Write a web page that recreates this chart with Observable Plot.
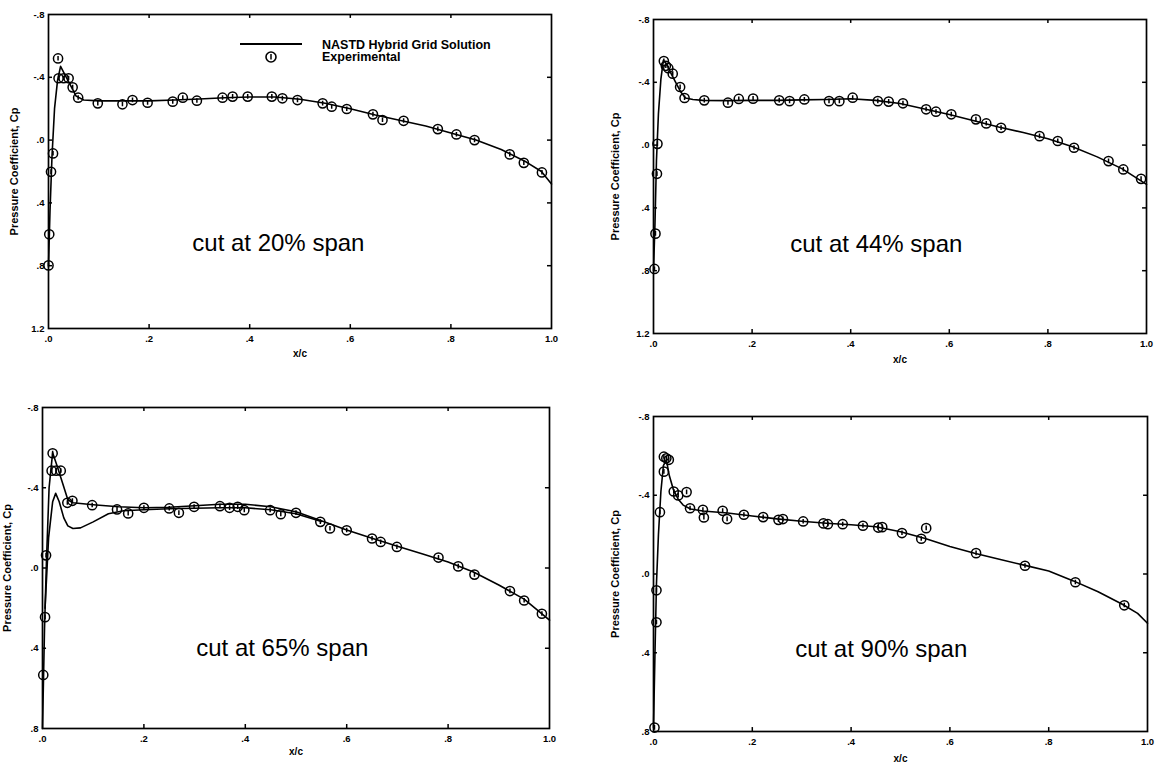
<!DOCTYPE html>
<html><head><meta charset="utf-8">
<script src="https://cdn.jsdelivr.net/npm/d3@7"></script>
<script src="https://cdn.jsdelivr.net/npm/@observablehq/plot@0.6"></script>
<style>
body{margin:0;background:#fff;}
#wrap{position:relative;width:1157px;height:766px;overflow:hidden;background:#fff;font-family:"Liberation Sans",Arial,sans-serif;}
#wrap svg{position:absolute;}
</style></head><body><div id="wrap"></div>
<script>
// ---- tick values ----
const xTicks = [0, 0.2, 0.4, 0.6, 0.8, 1.0];
const yTicksTop = [-0.8, -0.4, 0, 0.4, 0.8, 1.2];
const yTicksBottom = [-0.8, -0.4, 0, 0.4, 0.8];
const panelTitles = ["cut at 20% span", "cut at 44% span", "cut at 65% span", "cut at 90% span"];
const legendLabels = ["NASTD Hybrid Grid Solution", "Experimental"];

// ---- 20% span ----
const exp20X  = [0.0, 0.0015, 0.005, 0.009, 0.019, 0.02, 0.03, 0.04, 0.048, 0.059, 0.098, 0.147, 0.167, 0.197, 0.247, 0.267, 0.295, 0.346, 0.366, 0.396, 0.444, 0.465, 0.495, 0.545, 0.563, 0.593, 0.645, 0.664, 0.706, 0.774, 0.811, 0.847, 0.917, 0.945, 0.981];
const exp20Cp = [0.798, 0.6, 0.202, 0.085, -0.52, -0.394, -0.394, -0.394, -0.336, -0.27, -0.234, -0.228, -0.255, -0.238, -0.245, -0.27, -0.251, -0.27, -0.277, -0.277, -0.277, -0.266, -0.255, -0.234, -0.213, -0.198, -0.164, -0.128, -0.123, -0.07, -0.036, 0.0, 0.091, 0.145, 0.206];
const sol20X  = [0, 0.003, 0.007, 0.012, 0.018, 0.024, 0.032, 0.042, 0.055, 0.07, 0.1, 0.15, 0.2, 0.25, 0.3, 0.35, 0.4, 0.45, 0.5, 0.55, 0.6, 0.65, 0.7, 0.75, 0.8, 0.85, 0.9, 0.95, 0.98, 1.0];
const sol20Cp = [0.8, 0.45, 0.1, -0.2, -0.38, -0.47, -0.42, -0.36, -0.28, -0.255, -0.25, -0.25, -0.25, -0.255, -0.262, -0.27, -0.275, -0.275, -0.26, -0.235, -0.2, -0.16, -0.125, -0.09, -0.045, 0.0, 0.06, 0.14, 0.2, 0.28];

// ---- 44% span ----
const exp44X  = [0.002, 0.004, 0.007, 0.008, 0.021, 0.025, 0.03, 0.039, 0.054, 0.063, 0.103, 0.151, 0.173, 0.202, 0.255, 0.276, 0.306, 0.356, 0.377, 0.404, 0.455, 0.477, 0.506, 0.553, 0.573, 0.604, 0.654, 0.675, 0.705, 0.783, 0.82, 0.853, 0.923, 0.953, 0.989];
const exp44Cp = [0.789, 0.564, 0.183, -0.008, -0.535, -0.505, -0.49, -0.455, -0.37, -0.3, -0.285, -0.27, -0.294, -0.296, -0.285, -0.28, -0.291, -0.28, -0.28, -0.302, -0.28, -0.277, -0.266, -0.228, -0.213, -0.196, -0.164, -0.138, -0.11, -0.057, -0.026, 0.017, 0.102, 0.155, 0.215];
const sol44X  = [0, 0.003, 0.006, 0.01, 0.015, 0.02, 0.026, 0.035, 0.045, 0.055, 0.065, 0.08, 0.1, 0.15, 0.2, 0.25, 0.3, 0.35, 0.4, 0.45, 0.5, 0.55, 0.6, 0.65, 0.7, 0.75, 0.8, 0.85, 0.9, 0.95, 1.0];
const sol44Cp = [0.8, 0.5, 0.1, -0.2, -0.42, -0.54, -0.52, -0.46, -0.4, -0.34, -0.3, -0.29, -0.285, -0.283, -0.285, -0.285, -0.288, -0.29, -0.295, -0.285, -0.265, -0.23, -0.195, -0.155, -0.115, -0.08, -0.04, 0.01, 0.075, 0.15, 0.25];

// ---- 65% span ----
const exp65X  = [0.0015, 0.005, 0.007, 0.02, 0.018, 0.027, 0.036, 0.049, 0.059, 0.098, 0.147, 0.169, 0.2, 0.25, 0.269, 0.299, 0.35, 0.369, 0.385, 0.398, 0.449, 0.47, 0.5, 0.548, 0.567, 0.6, 0.65, 0.667, 0.699, 0.781, 0.82, 0.852, 0.922, 0.95, 0.985];
const exp65Cp = [0.533, 0.245, -0.063, -0.572, -0.485, -0.485, -0.485, -0.325, -0.335, -0.313, -0.292, -0.272, -0.3, -0.297, -0.275, -0.305, -0.308, -0.3, -0.305, -0.288, -0.288, -0.268, -0.275, -0.23, -0.197, -0.188, -0.147, -0.13, -0.105, -0.052, -0.008, 0.033, 0.115, 0.162, 0.228];
const solA65X  = [0, 0.004, 0.008, 0.013, 0.02, 0.03, 0.04, 0.05, 0.06, 0.1, 0.15, 0.2, 0.25, 0.3, 0.35, 0.4, 0.45, 0.5, 0.55, 0.6, 0.65, 0.7, 0.75, 0.8, 0.85, 0.9, 0.95, 1.0];
const solA65Cp = [0.8, 0.3, -0.05, -0.4, -0.575, -0.5, -0.42, -0.34, -0.325, -0.315, -0.305, -0.3, -0.303, -0.31, -0.318, -0.318, -0.305, -0.28, -0.235, -0.19, -0.148, -0.108, -0.07, -0.03, 0.02, 0.085, 0.155, 0.26];
const solB65X  = [0.005, 0.012, 0.02, 0.026, 0.033, 0.042, 0.05, 0.06, 0.075, 0.1, 0.13, 0.16, 0.2, 0.25, 0.3, 0.35, 0.4, 0.45, 0.5, 0.55];
const solB65Cp = [0.2, -0.15, -0.33, -0.372, -0.33, -0.25, -0.21, -0.197, -0.2, -0.23, -0.27, -0.285, -0.29, -0.295, -0.298, -0.3, -0.3, -0.29, -0.27, -0.232];

// ---- 90% span ----
const exp90X  = [0.002, 0.006, 0.006, 0.013, 0.021, 0.021, 0.026, 0.031, 0.041, 0.05, 0.067, 0.074, 0.1, 0.102, 0.14, 0.149, 0.183, 0.222, 0.253, 0.262, 0.303, 0.344, 0.353, 0.383, 0.424, 0.455, 0.463, 0.503, 0.542, 0.552, 0.653, 0.752, 0.854, 0.953];
const exp90Cp = [0.78, 0.245, 0.083, -0.314, -0.52, -0.596, -0.588, -0.58, -0.419, -0.399, -0.416, -0.334, -0.326, -0.287, -0.321, -0.279, -0.301, -0.289, -0.275, -0.279, -0.267, -0.257, -0.253, -0.253, -0.245, -0.236, -0.238, -0.208, -0.179, -0.233, -0.106, -0.042, 0.042, 0.159];
const sol90X  = [0.0, 0.003, 0.006, 0.01, 0.015, 0.02, 0.026, 0.032, 0.04, 0.05, 0.06, 0.075, 0.1, 0.15, 0.2, 0.25, 0.3, 0.35, 0.4, 0.45, 0.5, 0.55, 0.6, 0.65, 0.7, 0.75, 0.8, 0.85, 0.9, 0.95, 0.98, 1.0];
const sol90Cp = [0.78, 0.4, 0.05, -0.2, -0.42, -0.55, -0.58, -0.5, -0.43, -0.38, -0.35, -0.33, -0.32, -0.31, -0.295, -0.28, -0.268, -0.258, -0.25, -0.24, -0.215, -0.18, -0.14, -0.105, -0.075, -0.045, -0.015, 0.035, 0.09, 0.155, 0.2, 0.25];

const pts = (xs, ys) => xs.map((x, i) => ({x, cp: ys[i]}));
const fmt = d => (d < 0 ? "-" : "") + Math.abs(d).toFixed(1).replace(/^0\./, ".");
const FONT = '"Liberation Sans", Arial, Helvetica, sans-serif';

const circleTick = {
  draw(ctx, size) {
    const r = Math.sqrt(size / Math.PI);
    ctx.moveTo(r, 0);
    ctx.arc(0, 0, r, 0, 2 * Math.PI);
    ctx.moveTo(0, -r * 0.55);
    ctx.lineTo(0, r * 0.45);
  }
};

const panels = [
  {left: 0,   top: 0,   f: [48, 14, 551, 328],  yTicks: yTicksTop,    exp: pts(exp20X, exp20Cp), sols: [pts(sol20X, sol20Cp)], title: panelTitles[0], tx: 0.457, ty: 0.66,  ylab: 15,  xlab: 352},
  {left: 578, top: 0,   f: [653, 19, 1146, 333], yTicks: yTicksTop,   exp: pts(exp44X, exp44Cp), sols: [pts(sol44X, sol44Cp)], title: panelTitles[1], tx: 0.452, ty: 0.63,  ylab: 616, xlab: 358},
  {left: 0,   top: 383, f: [42, 407, 549, 728], yTicks: yTicksBottom, exp: pts(exp65X, exp65Cp), sols: [pts(solA65X, solA65Cp), pts(solB65X, solB65Cp)], title: panelTitles[2], tx: 0.473, ty: 0.40, ylab: 8, xlab: 750},
  {left: 578, top: 383, f: [653, 416, 1147, 731], yTicks: yTicksBottom, exp: pts(exp90X, exp90Cp), sols: [pts(sol90X, sol90Cp)], title: panelTitles[3], tx: 0.461, ty: 0.38, ylab: 616, xlab: 757}
];

const W = 578, H = 383;
const wrap = document.getElementById("wrap");

panels.forEach((p, k) => {
  const [x0, y0, x1, y1] = p.f;
  const yMin = p.yTicks[0], yMax = p.yTicks[p.yTicks.length - 1];
  const mL = x0 - p.left, mT = y0 - p.top, mR = p.left + W - x1, mB = p.top + H - y1;
  const ty = 0.025 * (yMax - yMin) / 2, tx = 0.008;
  const chart = Plot.plot({
    width: W, height: H,
    marginLeft: mL, marginTop: mT, marginRight: mR, marginBottom: mB,
    style: {fontFamily: FONT, fontSize: "9px", fontWeight: "bold", background: "transparent", overflow: "visible", color: "#000"},
    x: {domain: [0, 1]},
    y: {domain: [yMin, yMax], reverse: true},
    marks: [
      Plot.frame({stroke: "#000", strokeWidth: 1.7}),
      Plot.ruleX(xTicks.slice(1, -1), {x: d => d, y1: yMin, y2: yMin + ty, stroke: "#000", strokeWidth: 1.5}),
      Plot.ruleX(xTicks.slice(1, -1), {x: d => d, y1: yMax, y2: yMax - ty, stroke: "#000", strokeWidth: 1.5}),
      Plot.ruleY(p.yTicks.slice(1, -1), {y: d => d, x1: 0, x2: tx, stroke: "#000", strokeWidth: 1.5}),
      Plot.ruleY(p.yTicks.slice(1, -1), {y: d => d, x1: 1, x2: 1 - tx, stroke: "#000", strokeWidth: 1.5}),
      Plot.axisX({ticks: xTicks, tickFormat: fmt, tickSize: 0, tickPadding: 7, fontWeight: "bold", fontSize: 9.5,
        label: null}),
      Plot.axisX({ticks: [], tickSize: 0, label: "x/c", labelAnchor: "center", labelArrow: "none", labelOffset: p.xlab - y1 + 4, fontWeight: "bold", fontSize: 10}),
      Plot.axisY({ticks: p.yTicks, tickFormat: fmt, tickSize: 0, tickPadding: 4, fontWeight: "bold", fontSize: 9.5,
        label: null}),
      Plot.axisY({ticks: [], tickSize: 0, label: "Pressure Coefficient, Cp", labelAnchor: "center", labelArrow: "none", labelOffset: x0 - p.ylab + 5, fontWeight: "bold", fontSize: 11}),
      ...p.sols.map(s => Plot.line(s, {x: "x", y: "cp", stroke: "#000", strokeWidth: 1.6, curve: "linear"})),
      Plot.dot(p.exp, {x: "x", y: "cp", r: 4.6, symbol: circleTick, stroke: "#000", strokeWidth: 1.5, fill: "none"}),
      Plot.text([p.title], {x: () => p.tx, y: () => p.ty, text: d => d, fontSize: 24, fontWeight: "normal", fill: "#000", fontFamily: FONT})
    ]
  });
  chart.style.left = p.left + "px";
  chart.style.top = p.top + "px";
  wrap.appendChild(chart);
});

// legend (first panel)
const ns = "http://www.w3.org/2000/svg";
const leg = document.createElementNS(ns, "svg");
leg.setAttribute("width", 300); leg.setAttribute("height", 40);
leg.style.left = "230px"; leg.style.top = "32px";
leg.innerHTML = `
  <line x1="10" x2="72" y1="12" y2="12" stroke="#000" stroke-width="2"/>
  <circle cx="41" cy="25" r="5" fill="none" stroke="#000" stroke-width="1.6"/>
  <line x1="41" x2="41" y1="22" y2="27.5" stroke="#000" stroke-width="1.5"/>
  <text x="92" y="17" font-family='Liberation Sans, Arial, sans-serif' font-weight="bold" font-size="12.5">${legendLabels[0]}</text>
  <text x="92" y="29" font-family='Liberation Sans, Arial, sans-serif' font-weight="bold" font-size="12.5">${legendLabels[1]}</text>`;
wrap.appendChild(leg);
</script></body></html>
